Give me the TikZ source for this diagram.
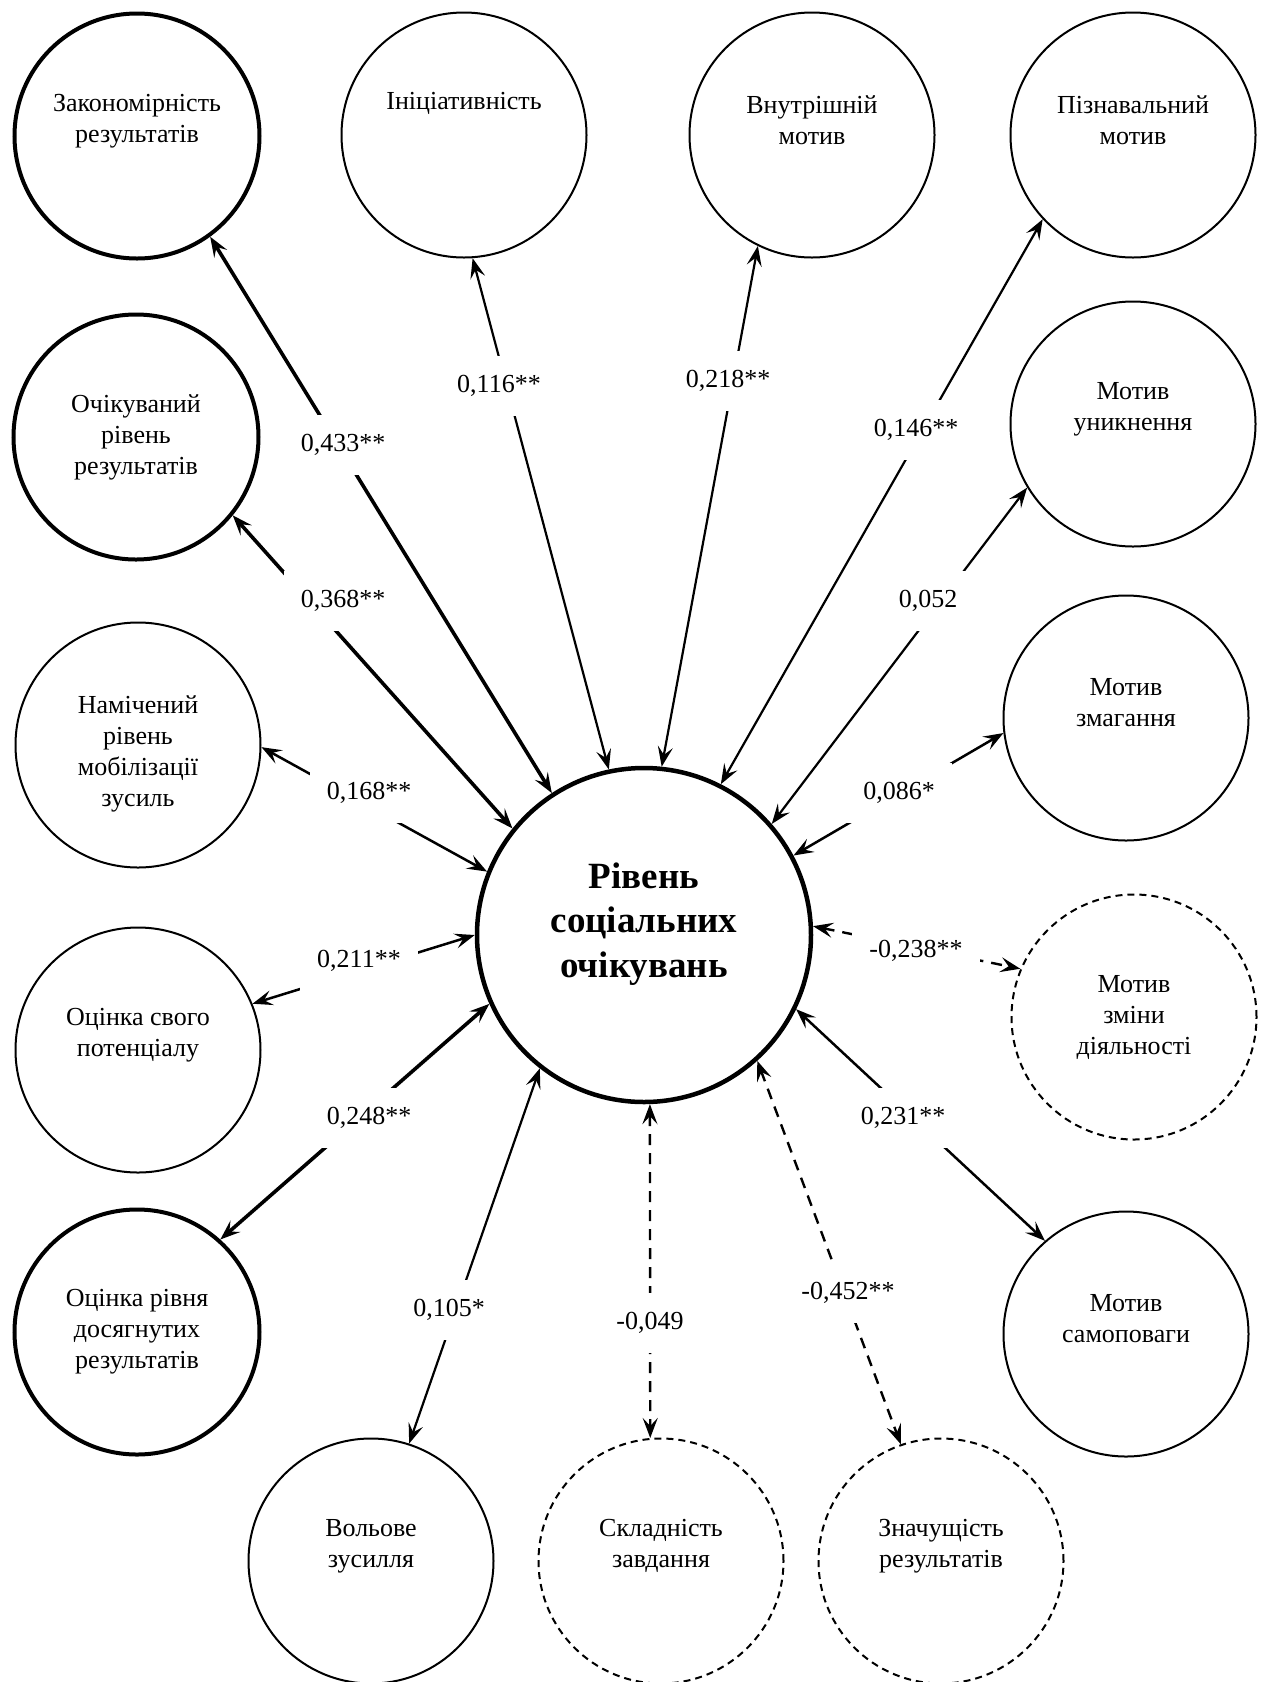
\documentclass[tikz,border=0pt]{standalone}
\usepackage{fontspec}
\setmainfont{Liberation Serif}
\usetikzlibrary{arrows.meta}
\begin{document}
\begin{tikzpicture}[x=1pt,y=-1pt,
  circ/.style={circle, draw, line width=2pt, minimum size=245pt, inner sep=0pt},
  thickc/.style={line width=4pt},
  dashc/.style={dash pattern=on 7pt off 5pt},
  txt/.style={align=center, font=\fontsize{26}{31}\selectfont, inner sep=0pt},
  lab/.style={fill=white, font=\fontsize{26}{31}\selectfont, inner xsep=17pt, inner ysep=19pt},
  tipa/.tip={Stealth[length=20pt,width=15pt,inset=8pt]},
  conn/.style={line width=2.2pt, tipa-tipa},
  heavy/.style={line width=3.6pt},
  dconn/.style={dash pattern=on 11pt off 8pt, line width=2.4pt},
]
\useasboundingbox (0,0) rectangle (1270,1682);

% central node
\node[circ, line width=4.5pt, minimum size=334pt] (c) at (644,935) {};
\node[txt, font=\fontsize{37}{44.5}\selectfont\bfseries] (ct) at (644,924) {Рівень\\соціальних\\очікувань};

% outer nodes
\node[circ, thickc] (n1) at (137,136) {};
\node[txt] (n1t) at (137,121) {Закономірність\\результатів};
\node[circ] (n2) at (464,135) {};
\node[txt] (n2t) at (464,103) {Ініціативність};
\node[circ] (n3) at (812,135) {};
\node[txt] (n3t) at (812,120) {Внутрішній\\мотив};
\node[circ] (n4) at (1133,135) {};
\node[txt] (n4t) at (1133,120) {Пізнавальний\\мотив};
\node[circ, thickc] (n5) at (136,437) {};
\node[txt] (n5t) at (136,437) {Очікуваний\\рівень\\результатів};
\node[circ] (n6) at (1133,424) {};
\node[txt] (n6t) at (1133,409) {Мотив\\уникнення};
\node[circ] (n7) at (138,745) {};
\node[txt] (n7t) at (138,754) {Намічений\\рівень\\мобілізації\\зусиль};
\node[circ] (n8) at (1126,718) {};
\node[txt] (n8t) at (1126,703) {Мотив\\змагання};
\node[circ] (n9) at (138,1050) {};
\node[txt] (n9t) at (138,1035) {Оцінка свого\\потенціалу};
\node[circ, dashc] (n10) at (1134,1017) {};
\node[txt] (n10t) at (1134,1017) {Мотив\\зміни\\діяльності};
\node[circ, thickc] (n11) at (137,1332) {};
\node[txt] (n11t) at (137,1332) {Оцінка рівня\\досягнутих\\результатів};
\node[circ] (n12) at (1126,1334) {};
\node[txt] (n12t) at (1126,1319) {Мотив\\самоповаги};
\node[circ] (n13) at (371,1561) {};
\node[txt] (n13t) at (371,1546) {Вольове\\зусилля};
\node[circ, dashc] (n14) at (661,1561) {};
\node[txt] (n14t) at (661,1546) {Складність\\завдання};
\node[circ, dashc] (n15) at (941,1561) {};
\node[txt] (n15t) at (941,1546) {Значущість\\результатів};

% connectors
\draw[conn, heavy] (c.123) -- (n1.-54);
\draw[conn] (c.102) -- (n2.-86);
\draw[conn] (c.84) -- (n3.-116);
\draw[conn] (c.63) -- (n4.-137);
\draw[conn, heavy] (c.141) -- (n5.-39);
\draw[conn] (c.41) -- (n6.-149);
\draw[conn, line width=2.5pt] (c.158) -- (n7.-1);
\draw[conn, line width=2.5pt] (c.28) -- (n8.187);
\draw[conn, line width=2.5pt] (c.180) -- (n9.22);
\draw[conn, dconn] (c.3) -- (n10.157);
\draw[conn, heavy] (c.204) -- (n11.48);
\draw[conn, line width=2.5pt] (c.-26) -- (n12.131);
\draw[conn] (c.232) -- (n13.72);
\draw[conn, dconn] (c.-88) -- (n14.95);
\draw[conn, dconn] (c.-48) -- (n15.109);

% labels
\node[lab] (l1) at (343,445) {0,433**};
\node[lab] (l2) at (499,386) {0,116**};
\node[lab] (l3) at (728,381) {0,218**};
\node[lab] (l4) at (916,430) {0,146**};
\node[lab] (l5) at (343,601) {0,368**};
\node[lab] (l6) at (928,601) {0,052};
\node[lab] (l7) at (369,793) {0,168**};
\node[lab] (l8) at (899,793) {0,086*};
\node[lab] (l9) at (359,961) {0,211**};
\node[lab] (l10) at (916,951) {-0,238**};
\node[lab] (l11) at (369,1118) {0,248**};
\node[lab] (l12) at (903,1118) {0,231**};
\node[lab] (l13) at (449,1310) {0,105*};
\node[lab] (l14) at (650,1323) {-0,049};
\node[lab] (l15) at (848,1293) {-0,452**};
\end{tikzpicture}
\end{document}
